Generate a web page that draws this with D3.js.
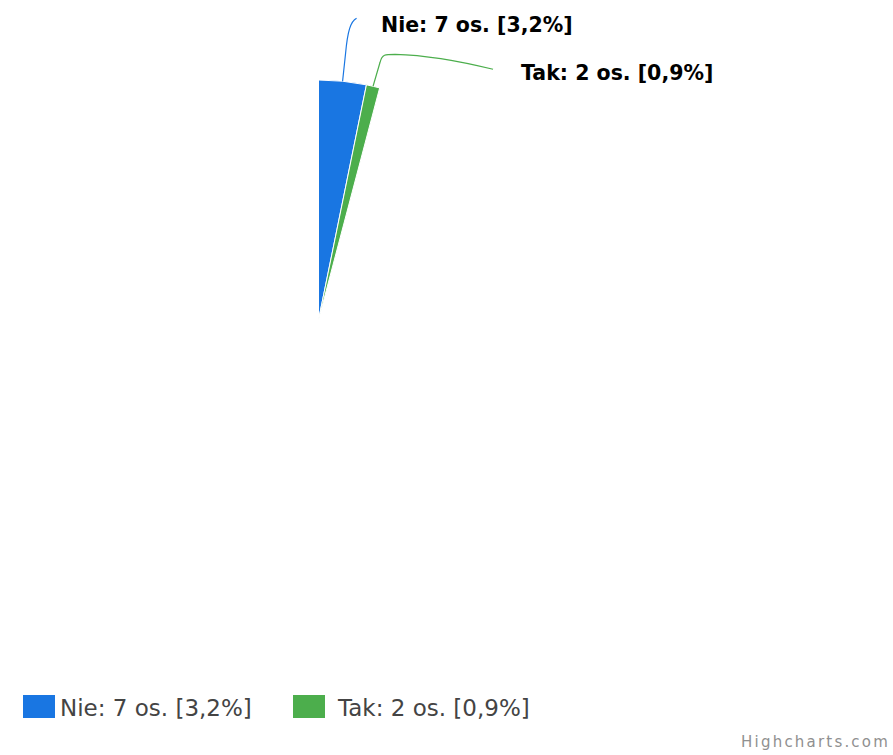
<!DOCTYPE html>
<html><head><meta charset="utf-8">
<script src="https://cdn.jsdelivr.net/npm/d3@7"></script>
<style>body{margin:0;background:#fff}svg{display:block}</style>
</head><body>
<svg id="c" width="893" height="755"></svg>
<script>
const categories = ["Nie", "Tak"];
const counts = [7, 2];
const percents = [3.2, 0.9];
const labels = ["Nie: 7 os. [3,2%]", "Tak: 2 os. [0,9%]"];
const colors = ["#1976e2", "#4cae4c"];

const svg = d3.select("#c");
const cx = 318.5, cy = 320, R = 240;
const total = 100;
const data = categories.map((c, i) => ({cat: c, count: counts[i], pct: percents[i], label: labels[i], color: colors[i]}));
const pie = d3.pie().sort(null).value(d => d.pct)
  .startAngle(0).endAngle(2 * Math.PI * d3.sum(percents) / total);
const arcs = pie(data);
const arc = d3.arc().innerRadius(0).outerRadius(R);
const g = svg.append("g").attr("transform", `translate(${cx},${cy})`);
g.selectAll("path").data(arcs).join("path")
  .attr("d", arc).attr("fill", d => d.data.color)
  .attr("stroke", "#fff").attr("stroke-width", 1).attr("stroke-linejoin", "miter").attr("stroke-miterlimit", 1);

// connectors and labels
const labelPos = [{x: 381, y: 24.5}, {x: 521, y: 73}];
arcs.forEach((a, i) => {
  const m = (a.startAngle + a.endAngle) / 2;
  const sx = cx + R * Math.sin(m), sy = cy - R * Math.cos(m);
  let p;
  if (i === 0) {
    p = `M${sx},${sy} L${sx + 3},${sy - 28} C${sx + 5},${sy - 50} ${sx + 8},${sy - 60} ${sx + 14},${sy - 63}`;
  } else {
    p = `M${sx},${sy} L${sx + 7},${sy - 24} C${sx + 9},${sy - 32} ${sx + 12},${sy - 32} ${sx + 22},${sy - 32} C${sx + 60},${sy - 31} ${sx + 100},${sy - 22} ${sx + 120},${sy - 17}`;
  }
  svg.append("path").attr("d", p).attr("fill", "none")
    .attr("stroke", a.data.color).attr("stroke-width", 1.2);
  svg.append("text").attr("x", labelPos[i].x).attr("y", labelPos[i].y)
    .attr("dominant-baseline", "central")
    .attr("font-family", "DejaVu Sans, Verdana, sans-serif")
    .attr("font-weight", "bold").attr("font-size", 20.5).attr("fill", "#000")
    .text(a.data.label);
});

// legend
const legX = [23, 293];
const legTextX = [60, 338];
data.forEach((d, i) => {
  svg.append("rect").attr("x", legX[i]).attr("y", 695).attr("width", 32).attr("height", 23).attr("fill", d.color);
  svg.append("text").attr("x", legTextX[i]).attr("y", 708)
    .attr("dominant-baseline", "central")
    .attr("font-family", "DejaVu Sans, Verdana, sans-serif")
    .attr("font-size", 23).attr("fill", "#444").text(d.label);
});

svg.append("text").attr("x", 890).attr("y", 747).attr("text-anchor", "end")
  .attr("font-family", "DejaVu Sans, Verdana, sans-serif")
  .attr("font-size", 15).attr("letter-spacing", 2.2).attr("fill", "#909090").text("Highcharts.com");
</script>
</body></html>
